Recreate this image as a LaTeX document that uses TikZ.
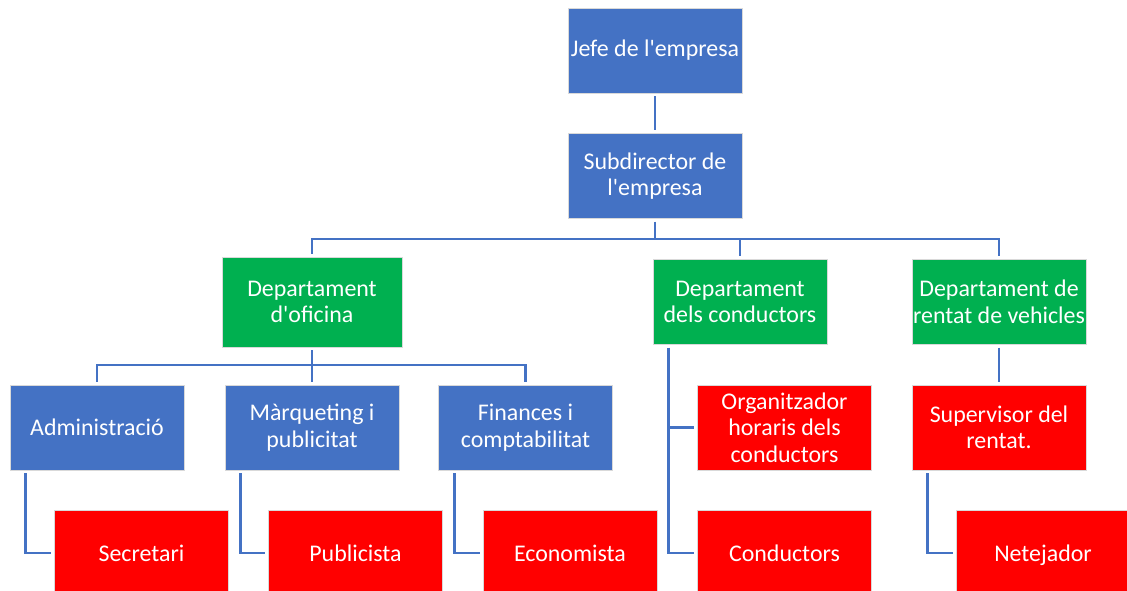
\documentclass[tikz,border=0pt]{standalone}
\usepackage{fontspec}
\setmainfont{Carlito}
\usetikzlibrary{calc}
\definecolor{cblue}{HTML}{4472C4}
\definecolor{cgreen}{HTML}{00B050}
\definecolor{cred}{HTML}{FF0000}
\definecolor{cline}{HTML}{4472C4}
\newcommand{\aq}{\textquotesingle}
\begin{document}
\begin{tikzpicture}[x=0.025cm,y=-0.025cm,
  box/.style={rectangle, minimum width=4.35cm, minimum height=2.125cm, inner sep=0pt,
    text=white, align=center, draw=white!85!black, line width=0.3pt,
    font=\fontsize{17}{18.9}\selectfont},
  bluebox/.style={box, fill=cblue},
  greenbox/.style={box, fill=cgreen},
  redbox/.style={box, fill=cred},
  conn/.style={draw=cline, line width=2pt},
  sh/.style={shorten <=2.1pt, shorten >=2.1pt},
  shs/.style={shorten <=2.1pt},
  she/.style={shorten >=2.1pt}]
\useasboundingbox (0,0) rectangle (1127,591);
\clip (0,0) rectangle (1127,591);
% nodes
\node[bluebox] (jefe) at (655,50.5) {Jefe de l\aq empresa};
\node[bluebox] (sub) at (655,176) {Subdirector de\\l\aq empresa};
\node[greenbox, minimum width=4.5cm, minimum height=2.25cm] (ofic) at (312,302) {Departament\\d\aq oficina};
\node[greenbox] (cond) at (740,302) {Departament\\dels conductors};
\node[greenbox] (rent) at (999,302) {Departament de\\rentat de vehicles};
\node[bluebox] (admin) at (97,427.5) {Administració};
\node[bluebox] (marq) at (312,427.5) {Màrqueting i\\publicitat};
\node[bluebox] (fin) at (525.5,427.5) {Finances i\\comptabilitat};
\node[redbox] (org) at (784.5,427.5) {Organitzador\\horaris dels\\conductors};
\node[redbox] (sup) at (999,427.5) {Supervisor del\\rentat.};
\node[redbox] (sec) at (141.5,553) {Secretari};
\node[redbox] (pub) at (355.5,553) {Publicista};
\node[redbox] (eco) at (570,553) {Economista};
\node[redbox] (condu) at (784.5,553) {Conductors};
\node[redbox] (net) at (1043,553) {\raisebox{0pt}[\height][0pt]{Netejador}};
% bus coordinates
\coordinate (bus1) at (655,239);
\coordinate (bus2) at (312,365);
\coordinate (condx) at ($(cond.south west)+(16,0)$);
% connectors
\draw[conn, sh] (jefe.south) -- (sub.north);
\draw[conn, shs] (sub.south) -- (bus1);
\draw[conn, sh] (ofic.north) |- (rent.north |- bus1) -- (rent.north);
\draw[conn, she] (cond.north |- bus1) -- (cond.north);
\draw[conn, shs] (ofic.south) -- (bus2);
\draw[conn, sh] (admin.north) |- (fin.north |- bus2) -- (fin.north);
\draw[conn, she] (bus2) -- (marq.north);
\draw[conn, sh] ($(admin.south west)+(16,0)$) |- (sec.west);
\draw[conn, sh] ($(marq.south west)+(16,0)$) |- (pub.west);
\draw[conn, sh] ($(fin.south west)+(16,0)$) |- (eco.west);
\draw[conn, sh] (condx) |- (condu.west);
\draw[conn, she] (condx |- org.west) -- (org.west);
\draw[conn, sh] (rent.south) -- (sup.north);
\draw[conn, sh] ($(sup.south west)+(16,0)$) |- (net.west);
\end{tikzpicture}
\end{document}
